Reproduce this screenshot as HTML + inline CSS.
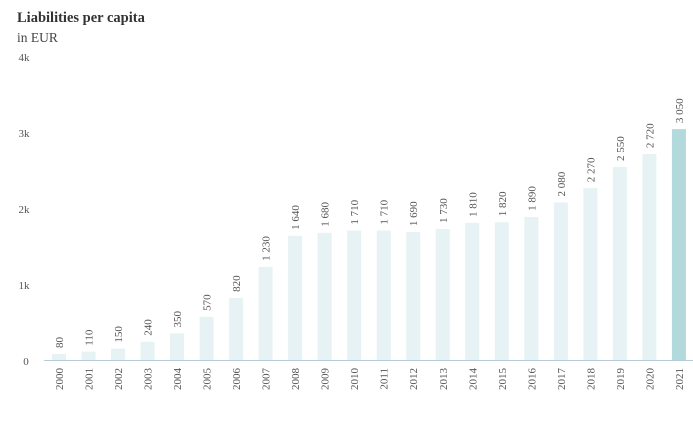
<!DOCTYPE html><html><head><style>body{margin:0;background:#fff}svg text{font-family:"Liberation Serif",serif;fill:#555}</style></head><body>
<svg width="693" height="420" xmlns="http://www.w3.org/2000/svg">
<text x="17" y="22" font-size="14.5" font-weight="bold" style="fill:#333">Liabilities per capita</text>
<text x="17" y="42" font-size="13.5" style="fill:#444">in EUR</text>
<g font-size="11" text-anchor="middle">
<text x="24" y="61">4k</text><text x="24" y="137">3k</text><text x="24" y="213">2k</text><text x="24" y="289">1k</text><text x="26" y="365">0</text>
</g>
<g fill="#e6f2f4">
<rect x="52" y="353.94" width="14" height="6.06"/>
<rect x="81.52" y="351.67" width="14" height="8.33"/>
<rect x="111.04" y="348.64" width="14" height="11.36"/>
<rect x="140.56" y="341.83" width="14" height="18.17"/>
<rect x="170.08" y="333.5" width="14" height="26.5"/>
<rect x="199.6" y="316.85" width="14" height="43.15"/>
<rect x="229.12" y="297.93" width="14" height="62.07"/>
<rect x="258.64" y="266.89" width="14" height="93.11"/>
<rect x="288.16" y="235.85" width="14" height="124.15"/>
<rect x="317.68" y="232.82" width="14" height="127.18"/>
<rect x="347.2" y="230.55" width="14" height="129.45"/>
<rect x="376.72" y="230.55" width="14" height="129.45"/>
<rect x="406.24" y="232.07" width="14" height="127.93"/>
<rect x="435.76" y="229.04" width="14" height="130.96"/>
<rect x="465.28" y="222.98" width="14" height="137.02"/>
<rect x="494.8" y="222.23" width="14" height="137.77"/>
<rect x="524.32" y="216.93" width="14" height="143.07"/>
<rect x="553.84" y="202.54" width="14" height="157.46"/>
<rect x="583.36" y="188.16" width="14" height="171.84"/>
<rect x="612.88" y="166.96" width="14" height="193.04"/>
<rect x="642.4" y="154.1" width="14" height="205.9"/>
<rect x="671.92" y="129.11" width="14" height="230.89" fill="#b2d9dc"/>
</g>
<g font-size="11">
<text transform="translate(63,348) rotate(-90)">80</text>
<text transform="translate(92.5,345.7) rotate(-90)">110</text>
<text transform="translate(122,342.6) rotate(-90)">150</text>
<text transform="translate(151.6,335.8) rotate(-90)">240</text>
<text transform="translate(181.1,327.5) rotate(-90)">350</text>
<text transform="translate(210.6,310.9) rotate(-90)">570</text>
<text transform="translate(240.1,291.9) rotate(-90)">820</text>
<text transform="translate(269.6,260.9) rotate(-90)">1 230</text>
<text transform="translate(299.2,229.9) rotate(-90)">1 640</text>
<text transform="translate(328.7,226.8) rotate(-90)">1 680</text>
<text transform="translate(358.2,224.6) rotate(-90)">1 710</text>
<text transform="translate(387.7,224.6) rotate(-90)">1 710</text>
<text transform="translate(417.2,226.1) rotate(-90)">1 690</text>
<text transform="translate(446.8,223) rotate(-90)">1 730</text>
<text transform="translate(476.3,217) rotate(-90)">1 810</text>
<text transform="translate(505.8,216.2) rotate(-90)">1 820</text>
<text transform="translate(535.3,210.9) rotate(-90)">1 890</text>
<text transform="translate(564.8,196.5) rotate(-90)">2 080</text>
<text transform="translate(594.4,182.2) rotate(-90)">2 270</text>
<text transform="translate(623.9,161) rotate(-90)">2 550</text>
<text transform="translate(653.4,148.1) rotate(-90)">2 720</text>
<text transform="translate(682.9,123.1) rotate(-90)">3 050</text>
</g>
<g font-size="11" text-anchor="end">
<text transform="translate(63,368) rotate(-90)">2000</text>
<text transform="translate(92.5,368) rotate(-90)">2001</text>
<text transform="translate(122,368) rotate(-90)">2002</text>
<text transform="translate(151.6,368) rotate(-90)">2003</text>
<text transform="translate(181.1,368) rotate(-90)">2004</text>
<text transform="translate(210.6,368) rotate(-90)">2005</text>
<text transform="translate(240.1,368) rotate(-90)">2006</text>
<text transform="translate(269.6,368) rotate(-90)">2007</text>
<text transform="translate(299.2,368) rotate(-90)">2008</text>
<text transform="translate(328.7,368) rotate(-90)">2009</text>
<text transform="translate(358.2,368) rotate(-90)">2010</text>
<text transform="translate(387.7,368) rotate(-90)">2011</text>
<text transform="translate(417.2,368) rotate(-90)">2012</text>
<text transform="translate(446.8,368) rotate(-90)">2013</text>
<text transform="translate(476.3,368) rotate(-90)">2014</text>
<text transform="translate(505.8,368) rotate(-90)">2015</text>
<text transform="translate(535.3,368) rotate(-90)">2016</text>
<text transform="translate(564.8,368) rotate(-90)">2017</text>
<text transform="translate(594.4,368) rotate(-90)">2018</text>
<text transform="translate(623.9,368) rotate(-90)">2019</text>
<text transform="translate(653.4,368) rotate(-90)">2020</text>
<text transform="translate(682.9,368) rotate(-90)">2021</text>
</g>
<line x1="44" y1="360.5" x2="693" y2="360.5" stroke="#b7cbd8" stroke-width="1"/>
</svg></body></html>
